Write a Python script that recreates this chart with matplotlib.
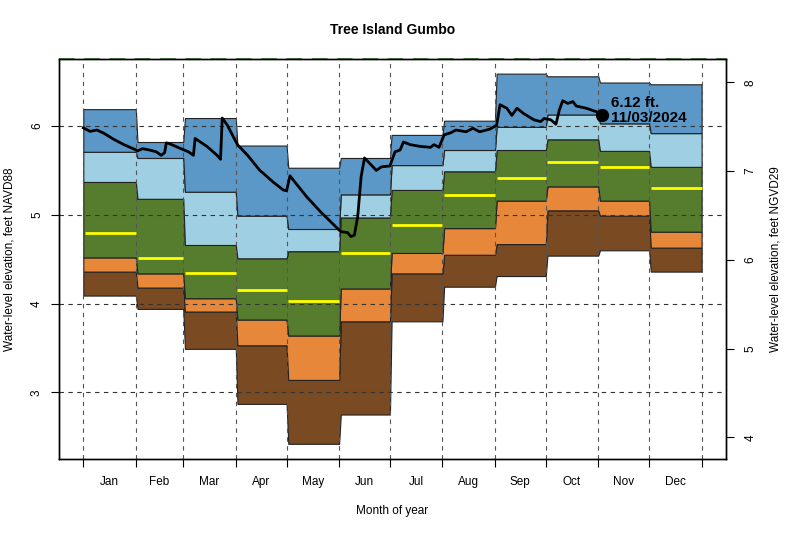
import numpy as np
import matplotlib.pyplot as plt

plt.rcParams['font.family'] = ['Liberation Sans', 'DejaVu Sans']

# month boundaries as day of year, labels in between
month_start = [0, 31, 59, 90, 120, 151, 181, 212, 243, 273, 304, 334, 365]
month_names = ['Jan', 'Feb', 'Mar', 'Apr', 'May', 'Jun',
               'Jul', 'Aug', 'Sep', 'Oct', 'Nov', 'Dec']

# monthly statistics, feet NAVD88
lev_min = [4.09, 3.94, 3.49, 2.87, 2.42, 2.75, 3.80, 4.19, 4.31, 4.54, 4.60, 4.36]
lev_p10 = [4.36, 4.18, 3.91, 3.53, 3.14, 3.80, 4.34, 4.55, 4.67, 5.05, 4.99, 4.63]
lev_p25 = [4.52, 4.34, 4.06, 3.82, 3.64, 4.17, 4.57, 4.85, 5.16, 5.32, 5.16, 4.81]
lev_p75 = [5.37, 5.18, 4.66, 4.51, 4.59, 4.97, 5.28, 5.49, 5.73, 5.85, 5.72, 5.54]
lev_p90 = [5.71, 5.64, 5.26, 4.99, 4.84, 5.23, 5.56, 5.73, 5.99, 6.13, 6.03, 5.92]
lev_max = [6.19, 5.82, 6.09, 5.78, 5.53, 5.64, 5.90, 6.06, 6.59, 6.56, 6.49, 6.47]
lev_med = [4.79, 4.51, 4.34, 4.15, 4.03, 4.57, 4.89, 5.22, 5.42, 5.60, 5.54, 5.30]

# current year daily water level
day_2024 = [0, 4, 8, 12, 18, 24, 30, 32, 35, 39, 43, 46, 48, 49, 51, 57, 62, 65, 66,
            73, 79, 81, 82, 85, 91, 97, 104, 112, 118, 120, 122, 124, 132, 140, 148,
            152, 156, 158, 160, 162, 164, 166, 168, 173, 176, 181, 184, 187, 189, 193,
            199, 205, 207, 210, 213, 217, 220, 226, 230, 234, 240, 244, 246, 250, 253,
            256, 260, 266, 270, 272, 276, 279, 281, 283, 286, 289, 291, 297, 303, 306]
wl_2024 = [5.98, 5.94, 5.955, 5.92, 5.85, 5.79, 5.74, 5.72, 5.745, 5.73, 5.71, 5.67,
           5.70, 5.81, 5.80, 5.75, 5.71, 5.67, 5.86, 5.77, 5.67, 5.625, 6.09, 6.01,
           5.79, 5.67, 5.505, 5.37, 5.28, 5.27, 5.44, 5.39, 5.20, 5.035, 4.885, 4.81,
           4.80, 4.755, 4.77, 4.98, 5.43, 5.64, 5.60, 5.50, 5.54, 5.55, 5.71, 5.73,
           5.82, 5.79, 5.77, 5.76, 5.79, 5.76, 5.90, 5.925, 5.955, 5.935, 5.975, 5.935,
           5.965, 6.01, 6.24, 6.20, 6.12, 6.20, 6.14, 6.07, 6.05, 6.085, 6.07, 6.02,
           6.18, 6.285, 6.255, 6.275, 6.225, 6.20, 6.16, 6.12]
last_day = 306
last_val = 6.12
last_txt = '6.12 ft.\n11/03/2024'

datum_shift = 1.508  # NGVD29 - NAVD88

band_cols = ['#7a4a22', '#e6873a', '#567d2e', '#9fcfe2', '#5b97c7']
levels = [lev_min, lev_p10, lev_p25, lev_p75, lev_p90, lev_max]


def steps(vals):
    xs, ys = [], []
    for i, v in enumerate(vals):
        x0 = month_start[i] + (1 if i > 0 else 0)
        xs += [x0, month_start[i + 1]]
        ys += [v, v]
    return np.array(xs), np.array(ys)


fig = plt.figure(figsize=(8, 5.33), dpi=100)
ax = fig.add_axes([59 / 800, 1 - 459 / 533, 667 / 800, 400 / 533])

for k in range(5):
    xs, lo = steps(levels[k])
    _, hi = steps(levels[k + 1])
    ax.fill_between(xs, lo, hi, facecolor=band_cols[k], edgecolor='#222222',
                    linewidth=0.8, zorder=1)

for i, m in enumerate(lev_med):
    ax.hlines(m, month_start[i] + 1, month_start[i + 1], colors='#ffff00',
              linewidth=2, zorder=3)

ax.set_xlim(-14.35, 379.4)
ax.set_ylim(2.249, 6.755)

for d in month_start:
    ax.axvline(d, color='#555555', linestyle=(0, (4, 4)), linewidth=0.8, zorder=2)
for y in [3, 4, 5, 6]:
    ax.axhline(y, color='#333333', linestyle=(0, (4, 4)), linewidth=0.8, zorder=2)
ax.axhline(6.755, color='#4a7a44', linestyle=(0, (8, 5)), linewidth=1.4,
           zorder=5, clip_on=False)

ax.plot(day_2024, wl_2024, color='black', linewidth=2, zorder=4)
ax.plot(last_day, last_val, 'o', color='black', markersize=8.5, zorder=6)
ax.text(last_day + 5.5, last_val + 0.05, last_txt, fontsize=11, fontweight='bold',
        ha='left', va='center', linespacing=1.1, zorder=7)

ax.set_xticks(month_start)
ax.set_xticklabels([])
mids = [(month_start[i] + month_start[i + 1]) / 2 for i in range(12)]
ax.set_xticks(mids, minor=True)
ax.set_xticklabels(month_names, minor=True, fontsize=8.5)
ax.tick_params(axis='x', which='major', length=5.5, width=0.8)
ax.tick_params(axis='x', which='minor', length=0, pad=12.5)

ax.set_yticks([3, 4, 5, 6])
ax.tick_params(axis='y', length=5.5, width=0.8, labelsize=8.5, pad=6)
for lab in ax.get_yticklabels():
    lab.set_rotation(90)
    lab.set_va('center')

ax2 = ax.twinx()
ax2.set_ylim(2.249 + datum_shift, 6.755 + datum_shift)
ax2.set_yticks([4, 5, 6, 7, 8])
ax2.tick_params(axis='y', length=5.5, width=0.8, labelsize=8.5, pad=8)
for lab in ax2.get_yticklabels():
    lab.set_rotation(90)
    lab.set_va('center')

for a in (ax, ax2):
    for s in a.spines.values():
        s.set_linewidth(1.0)

fig.text(392.5 / 800, 1 - 30 / 533, 'Tree Island Gumbo', ha='center', va='center',
         fontsize=10, fontweight='bold')
fig.text(392.5 / 800, 1 - 511 / 533, 'Month of year', ha='center', va='center',
         fontsize=8.5)
fig.text(10 / 800, 1 - 259 / 533, 'Water-level elevation, feet NAVD88', rotation=90,
         ha='center', va='center', fontsize=8.5)
fig.text(776 / 800, 1 - 259 / 533, 'Water-level elevation, feet NGVD29', rotation=90,
         ha='center', va='center', fontsize=8.5)

fig.savefig('out.png', dpi=100)
